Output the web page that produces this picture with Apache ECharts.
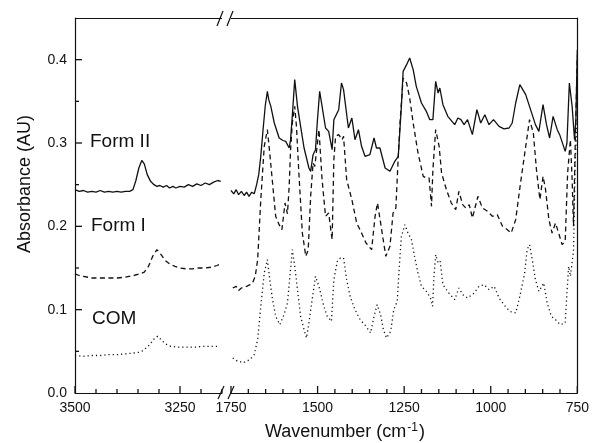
<!DOCTYPE html>
<html>
<head>
<meta charset="utf-8">
<script src="https://cdn.jsdelivr.net/npm/echarts@6/dist/echarts.min.js"></script>
<style>
html,body{margin:0;padding:0;background:#fff;}
#chart{width:592px;height:443px;}
</style>
</head>
<body>
<div id="chart"></div>
<script>
// ---- data (wavenumber cm^-1, absorbance AU) ----
const form2High = [[3500,0.244],[3490,0.242],[3480,0.243],[3470,0.241],[3460,0.242],[3450,0.241],[3440,0.243],[3430,0.241],[3420,0.242],[3410,0.241],[3400,0.242],[3390,0.241],[3380,0.242],[3370,0.242],[3362,0.244],[3355,0.255],[3348,0.270],[3341,0.279],[3335,0.275],[3328,0.262],[3320,0.254],[3312,0.250],[3305,0.248],[3298,0.249],[3290,0.247],[3282,0.249],[3275,0.246],[3267,0.248],[3260,0.246],[3250,0.248],[3240,0.247],[3230,0.250],[3220,0.248],[3210,0.251],[3200,0.249],[3190,0.252],[3180,0.250],[3170,0.253],[3160,0.255],[3153,0.254]];
const form1High = [[3500,0.143],[3490,0.141],[3480,0.140],[3460,0.138],[3440,0.138],[3420,0.138],[3400,0.138],[3380,0.139],[3360,0.141],[3345,0.143],[3335,0.145],[3325,0.152],[3315,0.164],[3305,0.172],[3295,0.166],[3285,0.159],[3275,0.155],[3262,0.152],[3250,0.150],[3235,0.149],[3220,0.149],[3205,0.150],[3190,0.150],[3175,0.151],[3162,0.153],[3153,0.155]];
const comHigh = [[3500,0.045],[3480,0.044],[3460,0.045],[3440,0.045],[3420,0.046],[3400,0.046],[3380,0.047],[3360,0.048],[3345,0.049],[3335,0.052],[3322,0.058],[3310,0.066],[3303,0.068],[3295,0.064],[3285,0.059],[3272,0.056],[3255,0.055],[3235,0.055],[3215,0.055],[3195,0.056],[3175,0.056],[3155,0.056]];

const form2Low = [[1750,0.243],[1742,0.239],[1735,0.244],[1728,0.238],[1720,0.242],[1712,0.237],[1705,0.241],[1698,0.236],[1690,0.241],[1683,0.239],[1676,0.250],[1670,0.262],[1664,0.284],[1657,0.318],[1651,0.345],[1645,0.362],[1641,0.352],[1635,0.344],[1625,0.324],[1611,0.306],[1600,0.303],[1592,0.302],[1582,0.294],[1578,0.304],[1573,0.332],[1566,0.376],[1558,0.344],[1549,0.320],[1539,0.294],[1525,0.270],[1520,0.266],[1513,0.286],[1506,0.292],[1501,0.324],[1494,0.362],[1487,0.344],[1477,0.318],[1468,0.314],[1458,0.292],[1453,0.328],[1439,0.340],[1431,0.372],[1425,0.364],[1411,0.318],[1401,0.330],[1392,0.304],[1382,0.316],[1373,0.296],[1363,0.284],[1349,0.286],[1337,0.306],[1330,0.294],[1320,0.294],[1305,0.270],[1291,0.266],[1277,0.278],[1267,0.284],[1258,0.344],[1253,0.386],[1243,0.394],[1234,0.402],[1224,0.388],[1215,0.368],[1200,0.348],[1186,0.338],[1176,0.328],[1167,0.328],[1159,0.374],[1152,0.360],[1147,0.366],[1138,0.346],[1124,0.332],[1104,0.322],[1095,0.330],[1086,0.328],[1077,0.322],[1067,0.328],[1053,0.310],[1040,0.340],[1029,0.324],[1017,0.334],[1005,0.322],[992,0.328],[976,0.320],[962,0.317],[947,0.318],[938,0.324],[928,0.348],[916,0.370],[899,0.358],[885,0.340],[871,0.322],[861,0.314],[849,0.346],[839,0.322],[830,0.306],[820,0.332],[808,0.316],[801,0.310],[785,0.290],[780,0.300],[773,0.372],[765,0.344],[758,0.304],[754,0.330],[750,0.412]];
const form1Low = [[1745,0.126],[1735,0.128],[1728,0.123],[1720,0.126],[1716,0.124],[1705,0.128],[1695,0.130],[1688,0.132],[1680,0.140],[1673,0.160],[1664,0.232],[1654,0.296],[1645,0.316],[1640,0.296],[1630,0.252],[1621,0.212],[1611,0.202],[1603,0.196],[1594,0.228],[1587,0.215],[1582,0.248],[1578,0.292],[1573,0.324],[1566,0.344],[1561,0.320],[1554,0.264],[1544,0.192],[1534,0.164],[1527,0.172],[1520,0.236],[1513,0.276],[1508,0.272],[1496,0.316],[1487,0.256],[1477,0.212],[1468,0.216],[1458,0.184],[1453,0.280],[1448,0.308],[1439,0.310],[1429,0.304],[1425,0.308],[1416,0.256],[1401,0.232],[1387,0.204],[1373,0.192],[1360,0.180],[1344,0.172],[1334,0.212],[1327,0.228],[1315,0.196],[1303,0.164],[1291,0.176],[1282,0.216],[1274,0.222],[1267,0.284],[1262,0.324],[1253,0.378],[1243,0.372],[1234,0.354],[1224,0.324],[1210,0.288],[1195,0.260],[1186,0.258],[1178,0.258],[1171,0.224],[1167,0.268],[1159,0.316],[1149,0.296],[1142,0.264],[1128,0.244],[1114,0.228],[1101,0.220],[1092,0.242],[1081,0.226],[1072,0.222],[1062,0.226],[1053,0.210],[1037,0.236],[1024,0.222],[1009,0.218],[995,0.212],[981,0.214],[966,0.200],[952,0.196],[941,0.192],[928,0.208],[914,0.252],[899,0.296],[888,0.328],[877,0.312],[868,0.268],[858,0.232],[849,0.260],[842,0.245],[832,0.208],[823,0.192],[813,0.204],[804,0.192],[794,0.178],[785,0.182],[778,0.264],[770,0.304],[765,0.256],[761,0.200],[756,0.300],[750,0.405]];
const comLow = [[1745,0.042],[1735,0.039],[1726,0.038],[1715,0.036],[1707,0.038],[1695,0.040],[1683,0.046],[1673,0.064],[1664,0.104],[1654,0.144],[1645,0.160],[1638,0.136],[1630,0.112],[1621,0.092],[1609,0.082],[1597,0.094],[1587,0.108],[1579,0.144],[1573,0.172],[1566,0.152],[1558,0.124],[1549,0.092],[1539,0.076],[1532,0.066],[1525,0.084],[1517,0.108],[1506,0.140],[1496,0.128],[1482,0.104],[1472,0.092],[1460,0.086],[1453,0.136],[1443,0.158],[1434,0.162],[1425,0.162],[1416,0.136],[1406,0.116],[1392,0.100],[1377,0.088],[1360,0.080],[1347,0.072],[1337,0.092],[1328,0.106],[1318,0.094],[1310,0.076],[1301,0.066],[1289,0.074],[1280,0.100],[1270,0.110],[1264,0.152],[1258,0.188],[1248,0.202],[1239,0.192],[1229,0.184],[1220,0.164],[1210,0.144],[1200,0.128],[1186,0.122],[1174,0.114],[1168,0.104],[1164,0.140],[1159,0.166],[1152,0.156],[1146,0.158],[1138,0.130],[1121,0.120],[1104,0.112],[1092,0.126],[1081,0.118],[1067,0.114],[1048,0.120],[1034,0.128],[1019,0.130],[1005,0.124],[990,0.128],[976,0.114],[962,0.106],[945,0.098],[928,0.096],[916,0.116],[902,0.144],[895,0.172],[888,0.178],[880,0.160],[871,0.136],[861,0.122],[847,0.132],[837,0.108],[825,0.092],[813,0.088],[799,0.082],[785,0.084],[780,0.120],[775,0.152],[770,0.140],[761,0.170],[756,0.280],[750,0.330]];

const highLabelTicks = [3500, 3250];
const highTickValues = [3500, 3450, 3400, 3350, 3300, 3250, 3200, 3150];
const lowLabelStep = 250;
const lowTickValues = [1750,1700,1650,1600,1550,1500,1450,1400,1350,1300,1250,1200,1150,1100,1050,1000,950,900,850,800,750];
const yLabelStep = 0.1;
const yTickValues = [0.05, 0.1, 0.15, 0.2, 0.25, 0.3, 0.35, 0.4];
const seriesNames = ['Form II', 'Form I', 'COM'];

const INK = '#111';
const CLEAR = 'rgba(0,0,0,0)';
const FONT = 'Liberation Sans, Arial, sans-serif';

const chart = echarts.init(document.getElementById('chart'));

function lc(w) { return {color: INK, width: w}; }
function lbl(fmt) { return {show: true, color: INK, fontSize: 14, fontFamily: FONT, margin: 8, formatter: fmt}; }
// only the split line at the top edge (max) is drawn: it forms the frame's top border
const topBorder = {show: true, lineStyle: {color: [CLEAR, CLEAR, CLEAR, CLEAR, CLEAR, INK], width: 1.2}};

const lineStyles = [
  {color: INK, width: 1.3, type: 'solid'},
  {color: INK, width: 1.3, type: [5, 3.5]},
  {color: INK, width: 1.3, type: [1.2, 3]}
];

function mk(name, data, grid, styleIdx) {
  return {
    name: name, type: 'line', data: data, showSymbol: false,
    xAxisIndex: grid, yAxisIndex: grid,
    lineStyle: lineStyles[styleIdx], itemStyle: {color: INK}, silent: true
  };
}

const option = {
  animation: false,
  grid: [
    {left: 75, top: 18, width: 147, height: 375},
    {left: 231, top: 18, width: 348, height: 375}
  ],
  xAxis: [
    {type: 'value', gridIndex: 0, min: 3150, max: 3500, interval: 50, inverse: true,
     splitLine: {show: false},
     axisLine: {show: true, onZero: false, lineStyle: lc(1.2)},
     axisTick: {show: false},
     axisLabel: lbl(v => (highLabelTicks.indexOf(Math.round(v)) >= 0 ? String(Math.round(v)) : ''))},
    {type: 'value', gridIndex: 1, min: 750, max: 1750, interval: lowLabelStep, inverse: true,
     splitLine: {show: false},
     axisLine: {show: true, onZero: false, lineStyle: lc(1.2)},
     axisTick: {show: false},
     axisLabel: lbl(v => String(Math.round(v)))}
  ],
  yAxis: [
    {type: 'value', gridIndex: 0, min: 0, max: 0.45, interval: yLabelStep,
     splitLine: topBorder,
     axisLine: {show: true, onZero: false, lineStyle: lc(1.2)},
     axisTick: {show: false},
     axisLabel: lbl(v => (v > 0.42 ? '' : Number(v).toFixed(1)))},
    {type: 'value', gridIndex: 1, min: 0, max: 0.45, interval: yLabelStep, position: 'right',
     splitLine: topBorder,
     axisLine: {show: true, onZero: false, lineStyle: lc(1.2)},
     axisTick: {show: false}, axisLabel: {show: false}}
  ],
  series: [
    mk(seriesNames[0], form2High, 0, 0),
    mk(seriesNames[1], form1High, 0, 1),
    mk(seriesNames[2], comHigh, 0, 2),
    mk(seriesNames[0], form2Low, 1, 0),
    mk(seriesNames[1], form1Low, 1, 1),
    mk(seriesNames[2], comLow, 1, 2)
  ]
};
chart.setOption(option);

// ---- axis ticks (inside), placed through the chart's own scales ----
const tickEls = [];
function addTick(p1, p2) {
  tickEls.push({type: 'line', silent: true, z: 20,
    shape: {x1: p1[0], y1: p1[1], x2: p2[0], y2: p2[1]},
    style: {stroke: INK, lineWidth: 1.3}});
}
function xTicks(gridIndex, values, isMajor) {
  values.forEach(v => {
    const p = chart.convertToPixel({gridIndex: gridIndex}, [v, 0]);
    const len = isMajor(v) ? 7 : 4;
    addTick([p[0], p[1]], [p[0], p[1] - len]);
  });
}
xTicks(0, highTickValues, v => highLabelTicks.indexOf(v) >= 0);
xTicks(1, lowTickValues, v => v % lowLabelStep === 0);
yTickValues.forEach(v => {
  const p = chart.convertToPixel({gridIndex: 0}, [3500, v]);
  const major = Math.abs(v * 10 - Math.round(v * 10)) < 1e-6;
  addTick([p[0], p[1]], [p[0] + (major ? 7 : 4), p[1]]);
});

const decor = [
  // axis break marks
  {type: 'line', shape: {x1: 217, y1: 26, x2: 223, y2: 11}, style: {stroke: INK, lineWidth: 1.2}, z: 20},
  {type: 'line', shape: {x1: 227, y1: 26, x2: 233, y2: 11}, style: {stroke: INK, lineWidth: 1.2}, z: 20},
  {type: 'line', shape: {x1: 218, y1: 399, x2: 224, y2: 386}, style: {stroke: INK, lineWidth: 1.2}, z: 20},
  {type: 'line', shape: {x1: 228, y1: 399, x2: 234, y2: 386}, style: {stroke: INK, lineWidth: 1.2}, z: 20},
  // series labels
  {type: 'text', left: 90, top: 132, style: {text: seriesNames[0], fill: INK, font: '19px ' + FONT}},
  {type: 'text', left: 91, top: 216, style: {text: seriesNames[1], fill: INK, font: '19px ' + FONT}},
  {type: 'text', left: 92, top: 309, style: {text: seriesNames[2], fill: INK, font: '19px ' + FONT}},
  // axis titles
  {type: 'text', x: 25, y: 184, rotation: Math.PI / 2,
    style: {text: 'Absorbance (AU)', fill: INK, font: '18px ' + FONT, align: 'center', verticalAlign: 'middle'}},
  {type: 'text', x: 345, y: 432,
    style: {text: '{a|Wavenumber (cm}{s|-1}{a|)}', align: 'center', verticalAlign: 'middle',
      rich: {a: {fill: INK, fontSize: 18, fontFamily: FONT},
             s: {fill: INK, fontSize: 12, fontFamily: FONT, verticalAlign: 'top', padding: [0, 1, 8, 1]}}}}
];

chart.setOption({graphic: decor.concat(tickEls)});
</script>
</body>
</html>
